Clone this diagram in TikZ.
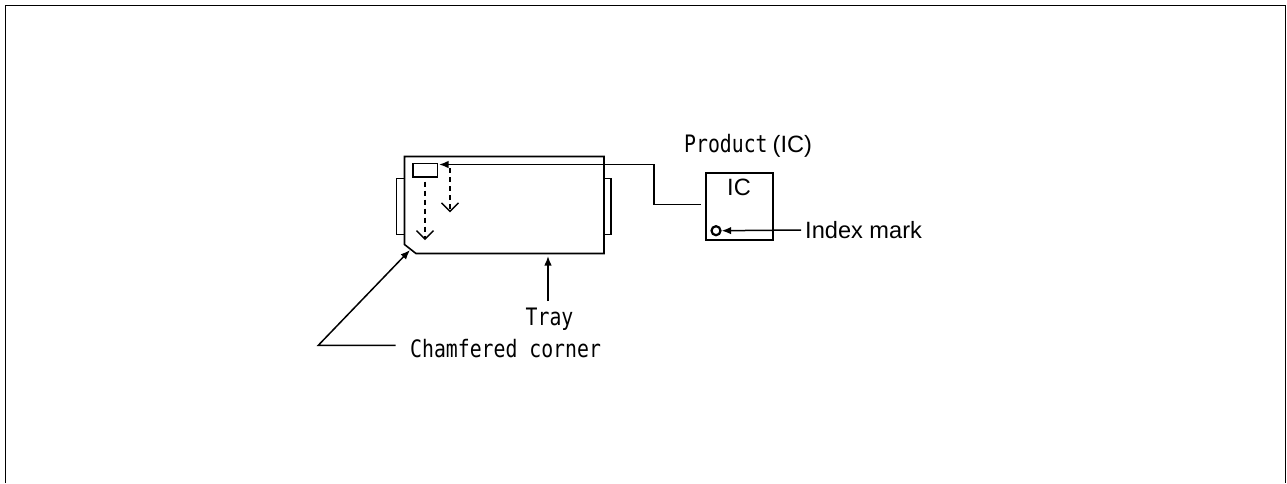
\documentclass[tikz,border=0pt]{standalone}
\usepackage{fontspec}
\setmainfont{Liberation Sans}
\newfontfamily\halffont[FakeStretch=0.825]{DejaVu Sans Mono}
\usetikzlibrary{arrows.meta,positioning}
\tikzset{
  leader/.style={black, line width=1.5pt},
  pointer/.style={leader, -{Latex[length=9.5pt,width=7.5pt]}},
  moveline/.style={black, line width=1.5pt, dash pattern=on 5pt off 4pt, -{Straight Barb[length=8.5pt,width=17pt,line width=1.4pt]}},
  part/.style={draw=black, line width=1.6pt, fill=white, inner sep=0pt},
  armlabel/.style={font=\fontsize{23.6}{26}\selectfont, inner sep=0pt},
  monolabel/.style={font=\halffont\fontsize{24}{26}\selectfont, inner sep=0pt}
}

\begin{document}
\begin{tikzpicture}[x=1pt, y=-1pt]
        \useasboundingbox (0,0) rectangle (1287,483);
        % frame, open at the bottom
        \draw[black, line width=1.8pt] (5.5,483) -- (5.5,5.5) -- (1285.5,5.5) -- (1285.5,483);
        % tray with its two side tabs
        \draw[part] (404.5,178.5) -- (396.5,178.5) -- (396.5,234.5) -- (404.5,234.5);
        \draw[part] (604,178.5) -- (611,178.5) -- (611,234.5) -- (604,234.5);
        \draw[part] (404.5,156.5) -- (604,156.5) -- (604,253.5) -- (416,253.5) -- (404.5,244.5) -- cycle;
        % pocket and fill order
        \node[part, minimum width=24.3pt, minimum height=13.7pt] (pocket) at (425.2,170.2) {};
        \coordinate (rowstart) at (425,181.7);
        \coordinate (rowend) at (425,240);
        \coordinate (colstart) at (450,168);
        \coordinate (colend) at (450,212.4);
        \draw[moveline] (rowstart) -- (rowend);
        \draw[moveline] (colstart) -- (colend);
        % product
        \node[part, minimum width=67pt, minimum height=67pt] (chip) at (739.2,206.5) {};
        \node[armlabel] (chiplabel) at (739,187) {IC};
        \node[draw=black, line width=2.2pt, circle, minimum size=9pt, inner sep=0pt] (mark) at (716,230.7) {};
        \node[monolabel, anchor=base west] (product) at (684,152) {Product\hspace{5pt}{\rmfamily\fontsize{23.6}{26}\selectfont(IC)}};
        \node[armlabel, anchor=base west] (marklabel) at (805,238) {Index mark};
        \coordinate (markend) at (801,230);
        \draw[pointer] (markend) -- (mark.east);
        % leader from the product to the pocket
        \coordinate (chipend) at (701,204.5);
        \coordinate (bend) at (654,204.5);
        \coordinate (pocketin) at (654,164.5);
        \coordinate (pockettip) at (439,164.5);
        \draw[pointer] (chipend) -- (bend) -- (pocketin) -- (pockettip);
        % tray label
        \node[monolabel, anchor=base] (traylabel) at (549.5,325) {Tray};
        \coordinate (trayend) at (548,301);
        \coordinate (traytip) at (548,256);
        \draw[pointer] (trayend) -- (traytip);
        % chamfer label
        \node[monolabel, anchor=base west] (cornerlabel) at (410,357) {Chamfered corner};
        \coordinate (cornerend) at (395.7,345.3);
        \coordinate (cornerbend) at (318.3,345.3);
        \coordinate (cornertip) at (410,250);
        \draw[pointer] (cornerend) -- (cornerbend) -- (cornertip);
      \end{tikzpicture}
\end{document}
